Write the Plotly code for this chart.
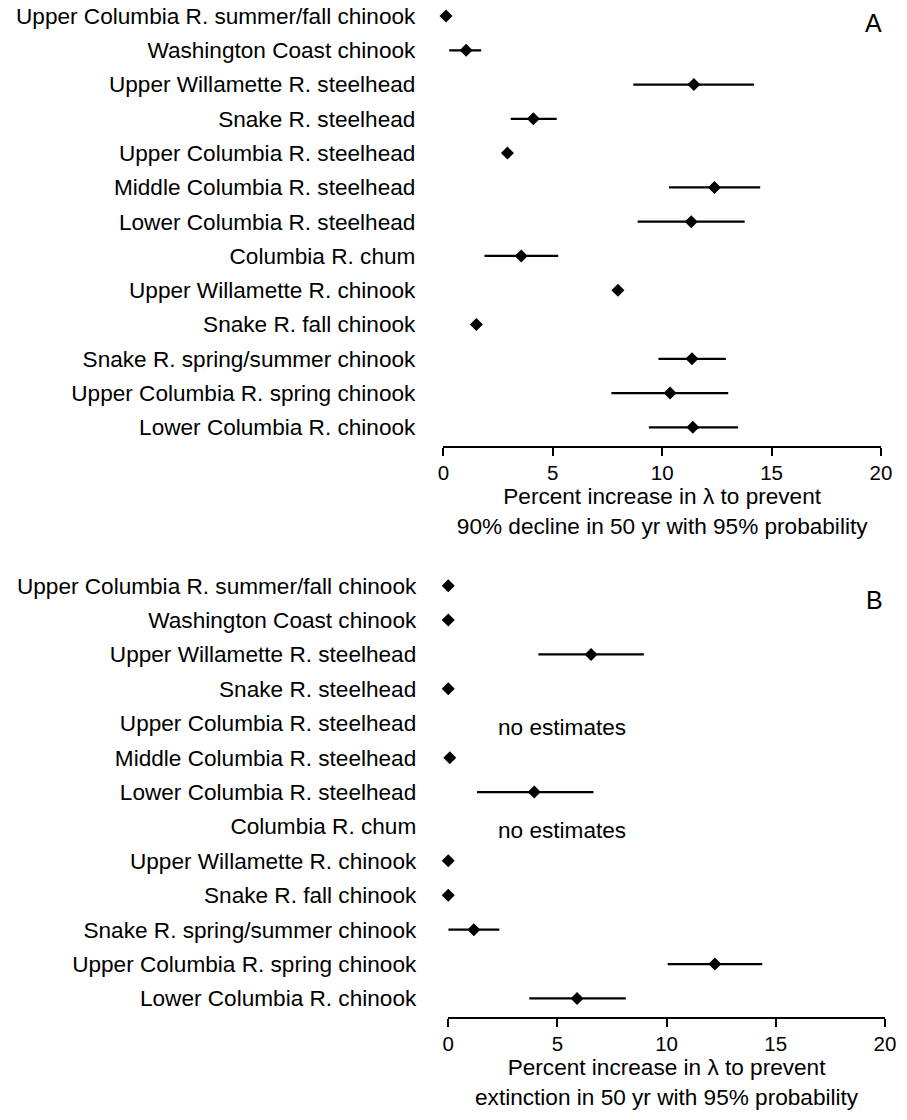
import plotly.graph_objects as go

# Categories (top to bottom)
stocks = [
    "Upper Columbia R. summer/fall chinook",
    "Washington Coast chinook",
    "Upper Willamette R. steelhead",
    "Snake R. steelhead",
    "Upper Columbia R. steelhead",
    "Middle Columbia R. steelhead",
    "Lower Columbia R. steelhead",
    "Columbia R. chum",
    "Upper Willamette R. chinook",
    "Snake R. fall chinook",
    "Snake R. spring/summer chinook",
    "Upper Columbia R. spring chinook",
    "Lower Columbia R. chinook",
]

# Panel A: percent increase in lambda to prevent 90% decline
est_a = [0.12, 1.04, 11.45, 4.11, 2.93, 12.39, 11.33, 3.56, 7.98, 1.51, 11.36, 10.36, 11.40]
low_a = [None, 0.27, 8.68, 3.08, None, 10.31, 8.88, 1.88, None, None, 9.83, 7.68, 9.39]
high_a = [None, 1.73, 14.20, 5.18, None, 14.48, 13.77, 5.25, None, None, 12.91, 13.02, 13.47]

# Panel B: percent increase in lambda to prevent extinction
est_b = [0.0, 0.0, 6.54, 0.0, None, 0.07, 3.94, None, 0.0, 0.0, 1.17, 12.21, 5.90]
low_b = [None, None, 4.13, None, None, None, 1.32, None, None, None, 0.0, 10.05, 3.71]
high_b = [None, None, 8.96, None, None, None, 6.65, None, None, None, 2.34, 14.38, 8.13]

no_estimate_label = "no estimates"
x_ticks = [0, 5, 10, 15, 20]
title_a = "Percent increase in \u03bb to prevent<br>90% decline in 50 yr with 95% probability"
title_b = "Percent increase in \u03bb to prevent<br>extinction in 50 yr with 95% probability"

FONT = "Liberation Sans, Arial, Helvetica, sans-serif"
W, H = 907, 1120
LABEL_SIZE = 22.6


def err_arrays(est, low, high):
    plus, minus = [], []
    for e, lo, hi in zip(est, low, high):
        if e is None or lo is None:
            plus.append(0)
            minus.append(0)
        else:
            plus.append(hi - e)
            minus.append(e - lo)
    return plus, minus


fig = go.Figure()

for est, low, high, xa, ya in [(est_a, low_a, high_a, "x", "y"),
                               (est_b, low_b, high_b, "x2", "y2")]:
    xs = [e for e in est if e is not None]
    ys = [s for s, e in zip(stocks, est) if e is not None]
    lo = [l for l, e in zip(low, est) if e is not None]
    hi = [h for h, e in zip(high, est) if e is not None]
    plus, minus = err_arrays(xs, lo, hi)
    fig.add_trace(go.Scatter(
        x=xs, y=ys, mode="markers", xaxis=xa, yaxis=ya,
        marker=dict(symbol="diamond", size=10, color="black"),
        error_x=dict(type="data", symmetric=False, array=plus, arrayminus=minus,
                     color="black", thickness=2.2, width=0),
        cliponaxis=False, showlegend=False,
    ))

# "no estimates" text for missing rows in panel B
annotations = []
for s, e in zip(stocks, est_b):
    if e is None:
        annotations.append(dict(x=2.2, y=s, xref="x2", yref="y2", text=no_estimate_label,
                                showarrow=False, xanchor="left", yanchor="middle", yshift=-4,
                                font=dict(size=LABEL_SIZE, color="black", family=FONT)))

annotations.append(dict(x=884 / W, y=1 - 23 / H, xref="paper", yref="paper", text="A",
                        showarrow=False, xanchor="center", yanchor="middle",
                        font=dict(size=25, color="black", family=FONT)))
annotations.append(dict(x=885 / W, y=1 - 600 / H, xref="paper", yref="paper", text="B",
                        showarrow=False, xanchor="center", yanchor="middle",
                        font=dict(size=25, color="black", family=FONT)))


def xaxis_style(domain, anchor, title):
    return dict(domain=domain, anchor=anchor, range=[0, 20], showline=True, linecolor="black",
                linewidth=2.3, ticks="outside", ticklen=8, tickwidth=2.3, tickcolor="black",
                tickvals=x_ticks, ticktext=[str(t) for t in x_ticks],
                tickfont=dict(size=20.5, color="black", family=FONT),
                showgrid=False, zeroline=False,
                title=dict(text=title, font=dict(size=LABEL_SIZE, color="black", family=FONT),
                           standoff=5))


def yaxis_style(domain, anchor, standoff):
    return dict(domain=domain, anchor=anchor, type="category", categoryarray=stocks,
                categoryorder="array", range=[12.53, -0.4], showline=False, ticks="",
                showgrid=False, zeroline=False, ticklabelstandoff=standoff,
                tickfont=dict(size=LABEL_SIZE, color="black", family=FONT))


fig.update_layout(
    width=W, height=H, margin=dict(l=0, r=0, t=0, b=0),
    paper_bgcolor="white", plot_bgcolor="white",
    font=dict(family=FONT, color="black"),
    xaxis=xaxis_style([445.7 / W, 891.7 / W], "y", title_a),
    yaxis=yaxis_style([1 - 445.5 / H, 1 - 2.3 / H], "x", 27),
    xaxis2=xaxis_style([450.7 / W, 895.7 / W], "y2", title_b),
    yaxis2=yaxis_style([1 - 1016.7 / H, 1 - 571.9 / H], "x2", 31),
    annotations=annotations,
)

fig.write_html("out.html", config={"displayModeBar": False},
               post_script="document.body.style.margin='0px';document.body.style.overflow='hidden';")
